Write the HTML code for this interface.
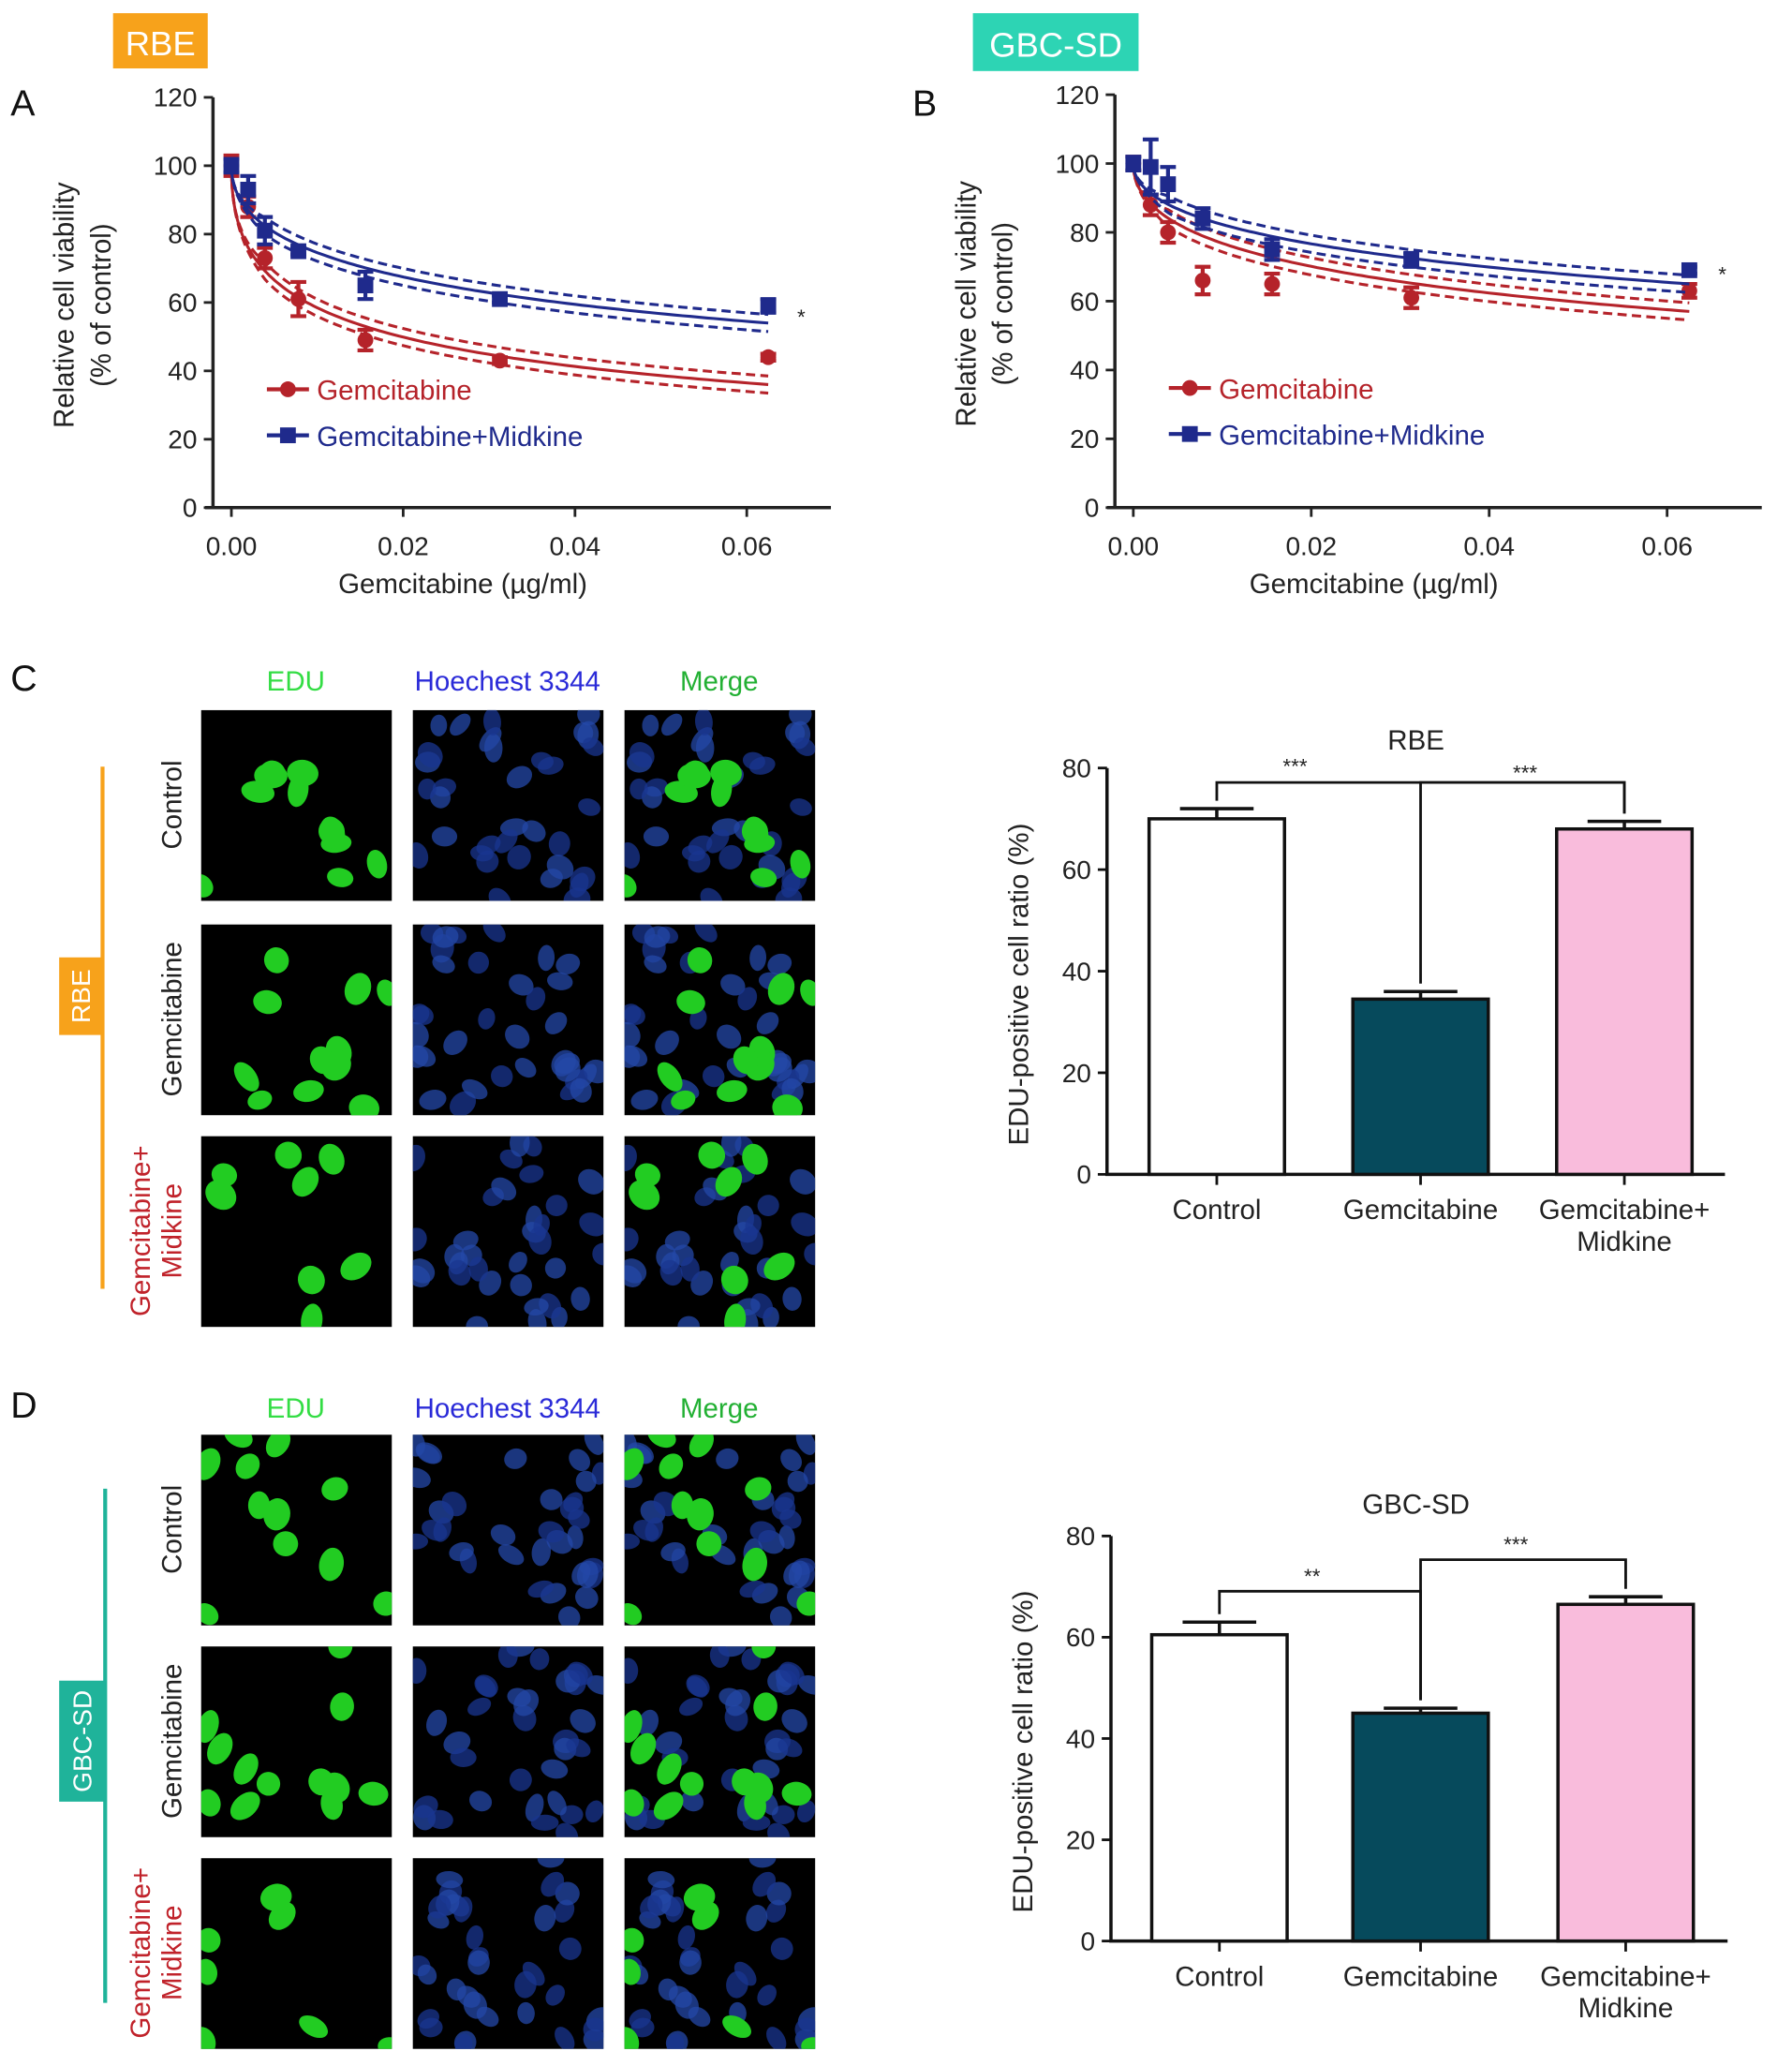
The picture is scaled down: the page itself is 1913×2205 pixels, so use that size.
<!DOCTYPE html>
<html><head><meta charset="utf-8"><style>
html,body{margin:0;padding:0;background:#fff;}
svg{display:block;font-family:"Liberation Sans",Arial,sans-serif;}
</style></head><body>
<svg id="fig" width="1913" height="2205" viewBox="0 0 1363 1571" xmlns="http://www.w3.org/2000/svg">
<rect width="1363" height="1571" fill="#fff"/>
<g id="A"></g>
<g id="B"></g>
<g id="C"></g>
<g id="D"></g>
</svg>
<script>
// ---- data ----
const doses = [0, 0.00195, 0.0039, 0.0078, 0.0156, 0.03125, 0.0625];
const rbeGem = [100, 88, 73, 61, 49, 43, 44];
const rbeGemErr = [3, 3, 3, 5, 3, 1, 1];
const rbeMid = [100, 93, 81, 75, 65, 61, 59];
const rbeMidErr = [2, 4, 4, 1, 4, 1, 2];
const gbcGem = [100, 88, 80, 66, 65, 61, 63];
const gbcGemErr = [2, 3, 3, 4, 3, 3, 2];
const gbcMid = [100, 99, 94, 84, 75, 72, 69];
const gbcMidErr = [2, 8, 5, 3, 3, 2, 1];
// fitted curve parameters [ec50, hill]
const rbeGemFit = [0.0198, 0.5];
const rbeMidFit = [0.086, 0.5];
const gbcGemFit = [0.11, 0.5];
const gbcMidFit = [0.216, 0.5];
const viabTicks = [0, 20, 40, 60, 80, 100, 120];
const doseTicks = [0, 0.02, 0.04, 0.06];
const doseTickLabels = ["0.00", "0.02", "0.04", "0.06"];
const barCats = ["Control", "Gemcitabine", "Gemcitabine+|Midkine"];
const rbeBars = [70, 34.5, 68];
const rbeBarErr = [2, 1.5, 1.5];
const gbcBars = [60.5, 45, 66.5];
const gbcBarErr = [2.5, 1, 1.5];
const barTicks = [0, 20, 40, 60, 80];

const NS = "http://www.w3.org/2000/svg";
function el(parent, tag, attrs, text) {
  const e = document.createElementNS(NS, tag);
  for (const k in attrs) e.setAttribute(k, attrs[k]);
  if (text !== undefined) e.textContent = text;
  parent.appendChild(e);
  return e;
}
function txt(parent, x, y, s, size, fill, anchor, name, extra) {
  const t = el(parent, "text", Object.assign({x: x, y: y, "font-size": size, fill: fill, "text-anchor": anchor || "start"}, extra || {}), s);
  
  
  return t;
}

// ---- dose-response panels ----
function doseChart(g, cfg) {
  const X = v => cfg.x0 + (v - 0) / 0.06 * (cfg.x6 - cfg.x0);
  const Y = v => cfg.y0 - v / 120 * (cfg.y0 - cfg.y120);
  const ax = el(g, "path", {d: `M${cfg.ax} ${cfg.y120} V${cfg.y0} M${cfg.ax - 6} ${cfg.y0} H${cfg.xend}`, stroke: "#222", "stroke-width": 2.5, fill: "none"});
  
  
  viabTicks.forEach(v => {
    el(g, "line", {x1: cfg.ax - 7, x2: cfg.ax, y1: Y(v), y2: Y(v), stroke: "#222", "stroke-width": 2});
    txt(g, cfg.ax - 12, Y(v) + 7, String(v), 20, "#222", "end", "y-tick-label");
  });
  doseTicks.forEach((v, i) => {
    el(g, "line", {x1: X(v), x2: X(v), y1: cfg.y0, y2: cfg.y0 + 7, stroke: "#222", "stroke-width": 2});
    txt(g, X(v), cfg.y0 + 36, doseTickLabels[i], 20, "#222", "middle", "x-tick-label");
  });
  txt(g, (cfg.x0 + cfg.x6) / 2 - 20, cfg.y0 + 65, "Gemcitabine (\u00b5g/ml)", 21, "#222", "middle", "x-axis-title", {transform: `scale(1,1)`});
  txt(g, 0, 0, "Relative cell viability", 22, "#222", "middle", "y-axis-title", {transform: `translate(${cfg.ax - 106},${(cfg.y0 + cfg.y120) / 2 + 2}) rotate(-90) scale(0.95,1)`});
  txt(g, 0, 0, "(% of control)", 22, "#222", "middle", "y-axis-title-unit", {transform: `translate(${cfg.ax - 78},${(cfg.y0 + cfg.y120) / 2 + 2}) rotate(-90) scale(0.95,1)`});
  const series = [
    {v: cfg.gem, e: cfg.gemErr, fit: cfg.gemFit, c: "#b5232a", m: "circle", name: "gemcitabine"},
    {v: cfg.mid, e: cfg.midErr, fit: cfg.midFit, c: "#1f2a8c", m: "square", name: "gemcitabine-midkine"}
  ];
  series.forEach(s => {
    const f = x => 100 / (1 + Math.pow(x / s.fit[0], s.fit[1]));
    [0, 2.5, -2.5].forEach(off => {
      let d = "";
      for (let i = 0; i <= 120; i++) {
        const x = 0.0625 * Math.pow(i / 120, 2);
        const yy = f(x) + off * Math.min(1, x / 0.004);
        d += (i ? "L" : "M") + X(x).toFixed(1) + " " + Y(yy).toFixed(1);
      }
      const p = el(g, "path", {d: d, stroke: s.c, "stroke-width": 2.2, fill: "none", "stroke-dasharray": off ? "7 4" : "none"});
      
      
    });
    doses.forEach((d, i) => {
      const cx = X(d), cy = Y(s.v[i]), eh = s.e[i] / 120 * (cfg.y0 - cfg.y120);
      const eb = el(g, "path", {d: `M${cx} ${cy - eh} V${cy + eh} M${cx - 6} ${cy - eh} H${cx + 6} M${cx - 6} ${cy + eh} H${cx + 6}`, stroke: s.c, "stroke-width": 3});
      
      
      const mk = s.m === "circle" ? el(g, "circle", {cx: cx, cy: cy, r: 6, fill: s.c}) : el(g, "rect", {x: cx - 6, y: cy - 6, width: 12, height: 12, fill: s.c});
      
      
    });
  });
  txt(g, X(0.0625) + 22, Y(cfg.starY) + 6, "*", 16, "#222", "start", "significance-star");
  const L = cfg.leg;
  el(g, "line", {x1: L[0], x2: L[0] + 32, y1: L[1], y2: L[1], stroke: "#b5232a", "stroke-width": 3});
  el(g, "circle", {cx: L[0] + 16, cy: L[1], r: 6, fill: "#b5232a"});
  txt(g, L[0] + 38, L[1] + 8, "Gemcitabine", 21, "#b5232a", "start", "legend-entry-gemcitabine");
  el(g, "line", {x1: L[0], x2: L[0] + 32, y1: L[1] + 35, y2: L[1] + 35, stroke: "#1f2a8c", "stroke-width": 3});
  el(g, "rect", {x: L[0] + 10, y: L[1] + 29, width: 12, height: 12, fill: "#1f2a8c"});
  txt(g, L[0] + 38, L[1] + 43, "Gemcitabine+Midkine", 21, "#1f2a8c", "start", "legend-entry-gemcitabine-midkine");
}
const gA = document.getElementById("A"), gB = document.getElementById("B");
const bA = el(gA, "rect", {x: 86, y: 10, width: 72, height: 42, fill: "#f7a21b"});
 
txt(gA, 122, 42, "RBE", 26, "#fff", "middle", "rbe-badge-label");
txt(gA, 8, 88, "A", 28, "#111", "start", "panel-label-a");
doseChart(gA, {ax: 162, x0: 176, x6: 568, xend: 632, y0: 386, y120: 74, gem: rbeGem, gemErr: rbeGemErr, mid: rbeMid, midErr: rbeMidErr, gemFit: rbeGemFit, midFit: rbeMidFit, leg: [203, 296], starY: 56});
const bB = el(gB, "rect", {x: 740, y: 10, width: 126, height: 44, fill: "#2dd4b4"});
 
txt(gB, 803, 43, "GBC-SD", 26, "#fff", "middle", "gbc-sd-badge-label");
txt(gB, 694, 88, "B", 28, "#111", "start", "panel-label-b");
doseChart(gB, {ax: 848, x0: 862, x6: 1268, xend: 1340, y0: 386, y120: 72, gem: gbcGem, gemErr: gbcGemErr, mid: gbcMid, midErr: gbcMidErr, gemFit: gbcGemFit, midFit: gbcMidFit, leg: [889, 295], starY: 68});

// ---- microscopy grids ----
let seed = 7;
function rnd() { seed = (seed * 16807) % 2147483647; return (seed - 1) / 2147483646; }
function cellGrid(g, cfg) {
  txt(g, 8, cfg.hy + 8, cfg.letter, 28, "#111", "start", "panel-label-" + cfg.letter.toLowerCase());
  const heads = [["EDU", "#33dd44"], ["Hoechest 3344", "#2a2ad8"], ["Merge", "#22b033"]];
  cfg.cols.forEach((cx, i) => txt(g, cx + 72, cfg.hy + 8, heads[i][0], 21, heads[i][1], "middle", "column-header"));
  const lb = el(g, "line", {x1: cfg.lx, x2: cfg.lx, y1: cfg.l1, y2: cfg.l2, stroke: cfg.color, "stroke-width": 3});
   
  const bd = el(g, "rect", {x: 45, y: cfg.b1, width: cfg.lx - 45, height: cfg.b2 - cfg.b1, fill: cfg.color});
   
  txt(g, 0, 0, cfg.name, 20, "#fff", "middle", "cell-line-badge-label", {transform: `translate(${(45 + cfg.lx) / 2 + 7},${(cfg.b1 + cfg.b2) / 2}) rotate(-90)`});
  const rowNames = [["Control"], ["Gemcitabine"], ["Gemcitabine+", "Midkine"]];
  cfg.rows.forEach((ry, r) => {
    const rn = rowNames[r];
    rn.forEach((s, k) => txt(g, 0, 0, s, 21, r === 2 ? "#c0222a" : "#222", "middle", "row-label",
      {transform: `translate(${rn.length === 2 ? 114 + k * 24 : 138},${ry + 72}) rotate(-90)`}));
    const nG = [11, 12, 8][r], nB = 34;
    const green = [], blue = [];
    for (let i = 0; i < nG; i++) green.push([rnd() * 145, rnd() * 145, 7 + rnd() * 4, 9 + rnd() * 4, rnd() * 180]);
    for (let i = 0; i < nB; i++) blue.push([rnd() * 145, rnd() * 145, 6 + rnd() * 3, 8 + rnd() * 3, rnd() * 180, rnd()]);
    cfg.cols.forEach((cx, c) => {
      const cell = el(g, "g", {});
      
      
      el(cell, "rect", {x: cx, y: ry, width: 145, height: 145, fill: "#000"});
      const clip = "clip" + cfg.letter + r + c;
      const cp = el(cell, "clipPath", {id: clip}); el(cp, "rect", {x: cx, y: ry, width: 145, height: 145});
      const inner = el(cell, "g", {"clip-path": `url(#${clip})`});
      if (c > 0) blue.forEach(b => el(inner, "ellipse", {cx: cx + b[0], cy: ry + b[1], rx: b[2], ry: b[3], transform: `rotate(${b[4]} ${cx + b[0]} ${ry + b[1]})`, fill: b[5] > 0.5 ? "#2448a8" : "#1a3590", opacity: 0.75}));
      if (c !== 1) green.forEach(b => el(inner, "ellipse", {cx: cx + b[0], cy: ry + b[1], rx: b[2], ry: b[3], transform: `rotate(${b[4]} ${cx + b[0]} ${ry + b[1]})`, fill: "#22cc22"}));
    });
  });
}
cellGrid(document.getElementById("C"), {letter: "C", hy: 517, cols: [153, 314, 475], rows: [540, 703, 864], lx: 78, l1: 583, l2: 980, b1: 728, b2: 787, color: "#f7a21b", name: "RBE"});
cellGrid(document.getElementById("D"), {letter: "D", hy: 1070, cols: [153, 314, 475], rows: [1091, 1252, 1413], lx: 80, l1: 1132, l2: 1523, b1: 1278, b2: 1370, color: "#1fb39a", name: "GBC-SD"});

// ---- bar charts ----
function barChart(g, cfg) {
  const Y = v => cfg.y0 - v / 80 * (cfg.y0 - cfg.y80);
  const fills = ["#ffffff", "#064a5c", "#f9bcdc"];
  el(g, "path", {d: `M${cfg.ax} ${cfg.y80} V${cfg.y0} H${cfg.xend}`, stroke: "#111", "stroke-width": 2.5, fill: "none"});
  barTicks.forEach(v => {
    el(g, "line", {x1: cfg.ax - 7, x2: cfg.ax, y1: Y(v), y2: Y(v), stroke: "#111", "stroke-width": 2});
    txt(g, cfg.ax - 12, Y(v) + 7, String(v), 20, "#222", "end", "y-tick-label");
  });
  txt(g, 0, 0, "EDU-positive cell ratio (%)", 21, "#222", "middle", "y-axis-title", {transform: `translate(${cfg.ax - 60},${(cfg.y0 + cfg.y80) / 2 + 10}) rotate(-90)`});
  txt(g, 1077, cfg.ty, cfg.title, 21, "#222", "middle", "chart-title");
  const centers = [];
  cfg.vals.forEach((v, i) => {
    const x = cfg.bx[i], w = 103, c = x + w / 2;
    centers.push(c);
    const r = el(g, "rect", {x: x, y: Y(v), width: w, height: cfg.y0 - Y(v), fill: fills[i], stroke: "#111", "stroke-width": 2.5});
    
    
    const e = cfg.err[i];
    el(g, "path", {d: `M${c} ${Y(v)} V${Y(v + e)} M${c - 28} ${Y(v + e)} H${c + 28}`, stroke: "#111", "stroke-width": 2.5, fill: "none"});
    el(g, "line", {x1: c, x2: c, y1: cfg.y0, y2: cfg.y0 + 8, stroke: "#111", "stroke-width": 2});
    const parts = barCats[i].split("|");
    parts.forEach((p, k) => txt(g, c, cfg.y0 + 34 + k * 24, p, 21, "#222", "middle", "x-tick-label"));
  });
  cfg.brackets.forEach(b => {
    const [a, m, yb, lab, lx, ly] = b;
    const xa = centers[a], xm = centers[m];
    const p = el(g, "path", {d: `M${xa} ${Y(cfg.vals[a] + cfg.err[a]) - 6} V${yb} H${xm} V${Y(cfg.vals[m] + cfg.err[m]) - (b[6] || 6)}`, stroke: "#111", "stroke-width": 2, fill: "none"});
    
    
    txt(g, lx, ly, lab, 16, "#222", "middle", "significance-label");
  });
}
const gC = document.getElementById("C"), gD = document.getElementById("D");
barChart(gC, {ax: 842, y0: 893, y80: 584, xend: 1312, bx: [874, 1029, 1184], vals: rbeBars, err: rbeBarErr, title: "RBE", ty: 570,
  brackets: [[0, 2, 595, "***", 985, 588], [1, 2, 595, "***", 1160, 593, 6]]});
barChart(gD, {ax: 845, y0: 1476, y80: 1168, xend: 1314, bx: [876, 1029, 1185], vals: gbcBars, err: gbcBarErr, title: "GBC-SD", ty: 1151,
  brackets: [[0, 1, 1210, "**", 998, 1204], [1, 2, 1186, "***", 1153, 1180]]});
</script>
</body></html>
